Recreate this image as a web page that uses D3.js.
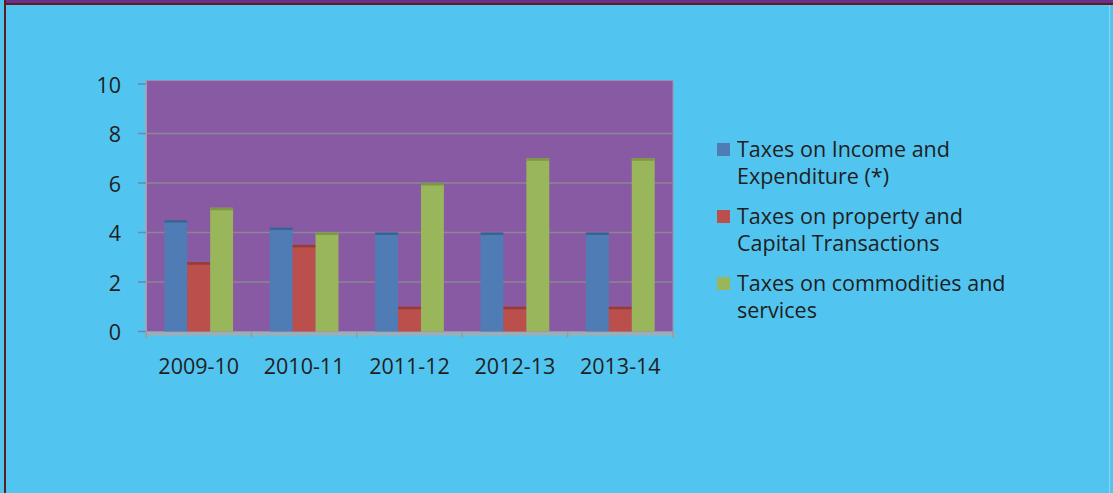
<!DOCTYPE html>
<html>
<head>
<meta charset="utf-8">
<script src="https://cdn.jsdelivr.net/npm/d3@7"></script>
<style>
  html, body { margin: 0; padding: 0; background: #52c4f0; }
  svg { display: block; }
  text { font-family: 'Open Sans', sans-serif; fill: #1e1e1e; }
</style>
</head>
<body>
<div id="chart"></div>
<script>
// Chart data
const categories = ['2009-10', '2010-11', '2011-12', '2012-13', '2013-14'];
const seriesNames = [
  ['Taxes on Income and', 'Expenditure (*)'],
  ['Taxes on property and', 'Capital Transactions'],
  ['Taxes on commodities and', 'services']
];
const incomeTax = [4.5, 4.2, 4.0, 4.0, 4.0];
const propertyTax = [2.8, 3.5, 1.0, 1.0, 1.0];
const commodityTax = [5.0, 4.0, 6.0, 7.0, 7.0];
const yTicks = [0, 2, 4, 6, 8, 10];

const seriesValues = [incomeTax, propertyTax, commodityTax];
const colors = ['#4f7cb5', '#ba4f4c', '#99b65a'];
const topColors = ['#3c6294', '#963b39', '#7c9746'];

const width = 1113;
const height = 493;
const fontSize = '21.5px';

const svg = d3.select('#chart')
  .append('svg')
  .attr('width', width)
  .attr('height', height);

// Page frame
svg.append('rect').attr('x', 0).attr('y', 0).attr('width', width).attr('height', height).attr('fill', '#52c4f0');
svg.append('rect').attr('x', 5).attr('y', 0).attr('width', width - 5).attr('height', 3).attr('fill', '#6b2f8c');
svg.append('rect').attr('x', 5).attr('y', 3).attr('width', width - 5).attr('height', 2).attr('fill', '#5c1d1d');
svg.append('rect').attr('x', 4).attr('y', 0).attr('width', 2).attr('height', height).attr('fill', '#5c1d1d');
svg.append('rect').attr('x', 1109).attr('y', 5).attr('width', 1).attr('height', height).attr('fill', '#86d6f6');

// Scales
const x0 = d3.scaleBand()
  .domain(categories)
  .range([146, 673]);

const x1 = d3.scaleBand()
  .domain(d3.range(seriesValues.length))
  .range([0, x0.bandwidth()])
  .paddingOuter(0.8);

const y = d3.scaleLinear()
  .domain([0, 10])
  .range([331.5, 84]);

// Plot area
svg.append('rect')
  .attr('x', 146)
  .attr('y', 80.5)
  .attr('width', 673 - 146)
  .attr('height', y(0) - 80.5)
  .attr('fill', '#885aa4')
  .attr('stroke', '#9a8fb0')
  .attr('stroke-width', 1);

// Gridlines
svg.append('g')
  .selectAll('line')
  .data(yTicks.filter(d => d > 0 && d < 10))
  .enter()
  .append('line')
  .attr('x1', 147)
  .attr('x2', 673)
  .attr('y1', d => y(d))
  .attr('y2', d => y(d))
  .attr('stroke', '#8d8595')
  .attr('stroke-width', 1.5);

// Bars
const groups = svg.append('g')
  .selectAll('g')
  .data(categories)
  .enter()
  .append('g')
  .attr('transform', d => `translate(${x0(d)},0)`);

seriesValues.forEach((vals, s) => {
  groups.append('rect')
    .attr('x', x1(s))
    .attr('width', x1.bandwidth())
    .attr('y', (d, i) => y(vals[i]))
    .attr('height', (d, i) => y(0) - y(vals[i]))
    .attr('fill', colors[s]);

  groups.append('rect')
    .attr('x', x1(s))
    .attr('width', x1.bandwidth())
    .attr('y', (d, i) => y(vals[i]))
    .attr('height', 2.5)
    .attr('fill', topColors[s]);
});

// Y axis
const yAxis = svg.append('g');
yAxis.append('line')
  .attr('x1', 146).attr('x2', 146)
  .attr('y1', 81).attr('y2', 334)
  .attr('stroke', '#a9a9b4').attr('stroke-width', 1.5);

yAxis.selectAll('line.tick')
  .data(yTicks)
  .enter()
  .append('line')
  .attr('class', 'tick')
  .attr('x1', 138).attr('x2', 146)
  .attr('y1', d => y(d)).attr('y2', d => y(d))
  .attr('stroke', '#6f86b0').attr('stroke-width', 1.5);

yAxis.selectAll('text')
  .data(yTicks)
  .enter()
  .append('text')
  .attr('x', 121)
  .attr('y', d => y(d) + 1)
  .attr('dy', '0.36em')
  .attr('text-anchor', 'end')
  .style('font-size', fontSize)
  .text(d => d);

// X axis
const xAxis = svg.append('g');
xAxis.append('rect')
  .attr('x', 145).attr('y', 332.5)
  .attr('width', 675 - 145).attr('height', 3)
  .attr('fill', '#a7aaae');

xAxis.selectAll('line')
  .data(categories.concat(['end']))
  .enter()
  .append('line')
  .attr('x1', (d, i) => 146 + i * x0.step())
  .attr('x2', (d, i) => 146 + i * x0.step())
  .attr('y1', 332).attr('y2', 338)
  .attr('stroke', '#9a9a9a').attr('stroke-width', 1.5);

xAxis.selectAll('text')
  .data(categories)
  .enter()
  .append('text')
  .attr('x', d => x0(d) + x0.bandwidth() / 2)
  .attr('y', 374)
  .attr('text-anchor', 'middle')
  .style('font-size', fontSize)
  .text(d => d);

// Legend
const legend = svg.append('g')
  .selectAll('g')
  .data(seriesNames)
  .enter()
  .append('g')
  .attr('transform', (d, i) => `translate(717,${143 + i * 67})`);

legend.append('rect')
  .attr('width', 13)
  .attr('height', 13)
  .attr('fill', (d, i) => colors[i]);

legend.append('text')
  .attr('x', 20)
  .attr('y', 14)
  .style('font-size', fontSize)
  .selectAll('tspan')
  .data(d => d)
  .enter()
  .append('tspan')
  .attr('x', 20)
  .attr('dy', (d, i) => i === 0 ? 0 : 26.7)
  .text(d => d);
</script>
</body>
</html>
